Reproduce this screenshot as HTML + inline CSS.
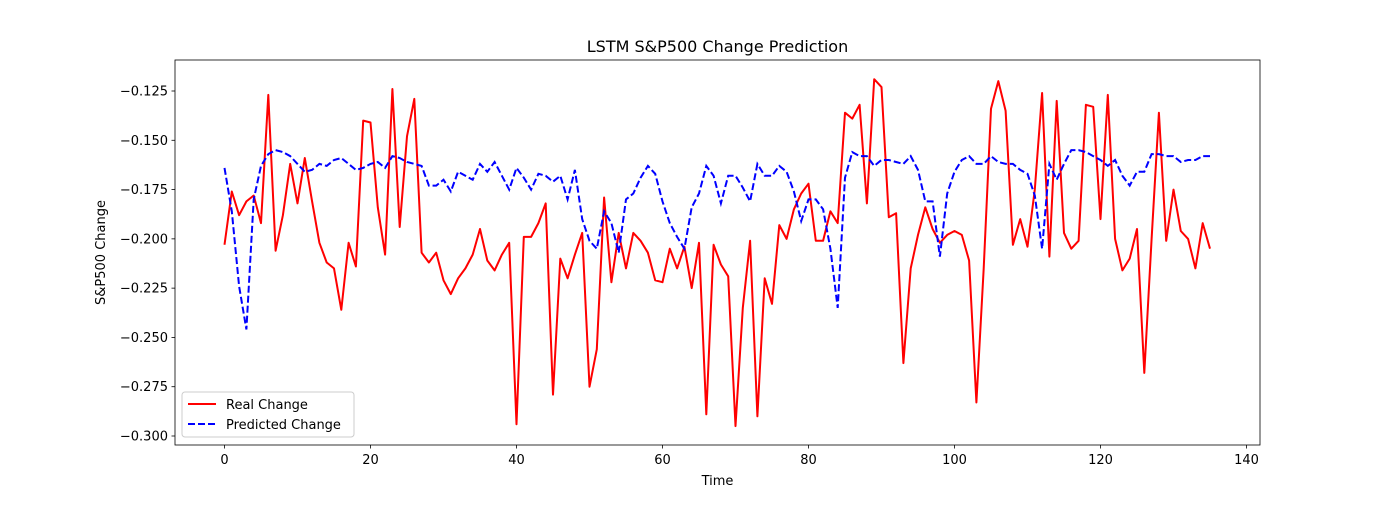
<!DOCTYPE html>
<html><head><meta charset="utf-8"><style>
body{margin:0;background:#fff}
svg text{font-family:"DejaVu Sans","Liberation Sans",sans-serif;fill:#000}
</style></head><body>
<svg id="chart" width="1400" height="500" xmlns="http://www.w3.org/2000/svg">
<rect width="1400" height="500" fill="#fff"/>
<text x="717.5" y="52" font-size="16" text-anchor="middle">LSTM S&amp;P500 Change Prediction</text>
<g id="grid"></g>
<g id="series"></g>
<rect x="175" y="60" width="1085" height="385" fill="none" stroke="#000" stroke-width="0.8"/>
<text x="717.5" y="485" font-size="13" text-anchor="middle">Time</text>
<text transform="translate(105,252.5) rotate(-90)" font-size="13" text-anchor="middle">S&amp;P500 Change</text>
<g>
<rect x="182" y="392" width="172" height="45" rx="3" fill="#fff" fill-opacity="0.8" stroke="#ccc"/>
<line x1="188" y1="404" x2="216" y2="404" stroke="#f00" stroke-width="2"/>
<text x="226" y="409" font-size="13">Real Change</text>
<line x1="188" y1="424" x2="216" y2="424" stroke="#00f" stroke-width="2" stroke-dasharray="7,3"/>
<text x="226" y="429" font-size="13">Predicted Change</text>
</g>
</svg>
<script>
const xTicks=[0,20,40,60,80,100,120,140];
const yTicks=[-0.125,-0.150,-0.175,-0.200,-0.225,-0.250,-0.275,-0.300];
const realChange=[-0.203,-0.176,-0.188,-0.181,-0.178,-0.192,-0.127,-0.206,-0.188,-0.162,-0.182,-0.159,-0.181,-0.202,-0.212,-0.215,-0.236,-0.202,-0.214,-0.140,-0.141,-0.184,-0.208,-0.124,-0.194,-0.148,-0.129,-0.207,-0.212,-0.207,-0.221,-0.228,-0.220,-0.215,-0.208,-0.195,-0.211,-0.216,-0.208,-0.202,-0.294,-0.199,-0.199,-0.192,-0.182,-0.279,-0.210,-0.220,-0.208,-0.197,-0.275,-0.256,-0.179,-0.222,-0.197,-0.215,-0.197,-0.201,-0.207,-0.221,-0.222,-0.205,-0.215,-0.204,-0.225,-0.202,-0.289,-0.203,-0.213,-0.219,-0.295,-0.235,-0.201,-0.290,-0.220,-0.233,-0.193,-0.200,-0.185,-0.177,-0.172,-0.201,-0.201,-0.186,-0.192,-0.136,-0.139,-0.132,-0.182,-0.119,-0.123,-0.189,-0.187,-0.263,-0.215,-0.198,-0.184,-0.195,-0.202,-0.198,-0.196,-0.198,-0.211,-0.283,-0.215,-0.134,-0.120,-0.135,-0.203,-0.190,-0.204,-0.175,-0.126,-0.209,-0.130,-0.197,-0.205,-0.201,-0.132,-0.133,-0.190,-0.127,-0.200,-0.216,-0.210,-0.195,-0.268,-0.200,-0.136,-0.201,-0.175,-0.196,-0.200,-0.215,-0.192,-0.205];
const predictedChange=[-0.164,-0.186,-0.224,-0.246,-0.180,-0.163,-0.157,-0.155,-0.156,-0.158,-0.162,-0.166,-0.165,-0.162,-0.163,-0.160,-0.159,-0.162,-0.165,-0.164,-0.162,-0.161,-0.164,-0.158,-0.159,-0.161,-0.162,-0.163,-0.173,-0.173,-0.170,-0.176,-0.166,-0.168,-0.170,-0.162,-0.166,-0.161,-0.168,-0.175,-0.164,-0.169,-0.175,-0.167,-0.168,-0.171,-0.168,-0.180,-0.165,-0.190,-0.201,-0.205,-0.186,-0.192,-0.207,-0.180,-0.177,-0.169,-0.163,-0.167,-0.181,-0.192,-0.199,-0.205,-0.184,-0.177,-0.163,-0.168,-0.182,-0.168,-0.168,-0.174,-0.181,-0.162,-0.168,-0.168,-0.163,-0.166,-0.176,-0.191,-0.180,-0.180,-0.185,-0.205,-0.235,-0.169,-0.156,-0.158,-0.158,-0.163,-0.160,-0.160,-0.161,-0.162,-0.158,-0.165,-0.181,-0.181,-0.209,-0.177,-0.166,-0.160,-0.158,-0.162,-0.162,-0.158,-0.161,-0.162,-0.162,-0.165,-0.167,-0.178,-0.205,-0.162,-0.170,-0.162,-0.155,-0.155,-0.156,-0.158,-0.160,-0.163,-0.160,-0.168,-0.173,-0.166,-0.166,-0.157,-0.157,-0.158,-0.158,-0.161,-0.160,-0.160,-0.158,-0.158];
const NS="http://www.w3.org/2000/svg";
function xs(v){return 224.5+v*(1246.5-224.5)/140;}
function ys(v){return 91+(-0.125-v)*(436-91)/0.175;}
const svg=document.getElementById('chart');
const grid=document.getElementById('grid');
const ser=document.getElementById('series');
function mk(tag,attrs,parent){const e=document.createElementNS(NS,tag);for(const k in attrs)e.setAttribute(k,attrs[k]);parent.appendChild(e);return e;}
xTicks.forEach(t=>{
  const l=mk('line',{x1:xs(t),x2:xs(t),y1:445,y2:448.5,stroke:'#000','stroke-width':0.8},grid);
  
  
  const tx=mk('text',{x:xs(t),y:464,'font-size':13,'text-anchor':'middle'},grid);
  tx.textContent=String(t);
  
  
});
yTicks.forEach(t=>{
  const l=mk('line',{x1:171.5,x2:175,y1:ys(t),y2:ys(t),stroke:'#000','stroke-width':0.8},grid);
  
  
  const tx=mk('text',{x:168,y:ys(t)+4.5,'font-size':13,'text-anchor':'end'},grid);
  tx.textContent='\u2212'+Math.abs(t).toFixed(3);
  
  
});
function pts(arr){return arr.map((v,i)=>xs(i).toFixed(1)+','+ys(v).toFixed(1)).join(' ');}
const r=mk('polyline',{points:pts(realChange),fill:'none',stroke:'#f00','stroke-width':2,'stroke-linejoin':'round'},ser);


const p=mk('polyline',{points:pts(predictedChange),fill:'none',stroke:'#00f','stroke-width':2,'stroke-dasharray':'7,3'},ser);


</script>
</body></html>
